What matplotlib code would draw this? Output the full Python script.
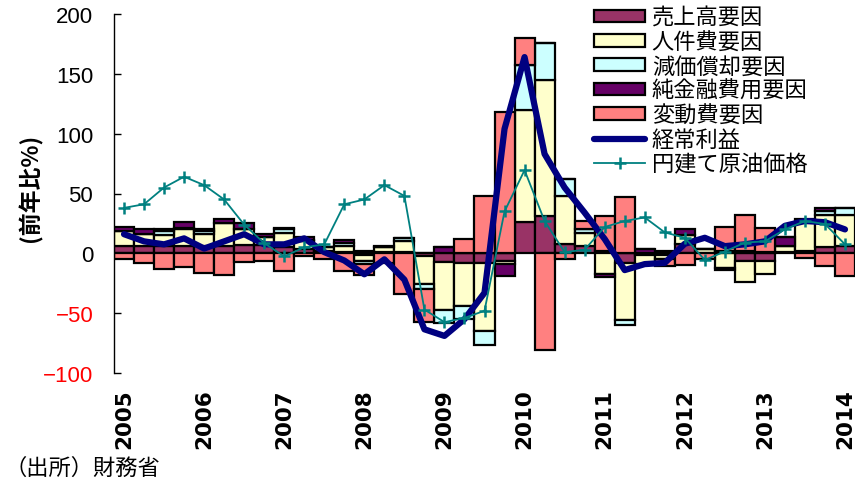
import numpy as np
import matplotlib.pyplot as plt

plt.rcParams['font.family'] = ['Noto Sans CJK JP', 'DejaVu Sans']

years = ['2005', '2006', '2007', '2008', '2009', '2010', '2011', '2012', '2013', '2014']

# 四半期ごとの寄与度 (2005Q1 - 2014Q1)
sales = [6, 6, 6, 6, 6, 6, 7, 7, 5, 4, 2, 1, -1, 1, 1, -2, -7, -8, -8, -6,
         26, 31, 8, 6, 2, -8, -1, -1, 8, 0, 0, -6, -6, 1, 2, 5, 6]
labor = [13, 10, 9, 14, 10, 19, 13, 7, 12, 6, 3, 5, -5, 4, 9, -24, -40, -36, -57, -3,
         94, 114, 40, 11, -17, -48, -8, -4, 7, 4, -12, -18, -11, 5, 25, 27, 26]
deprec = [0, 0, 4, 1, 2.5, 0, 0, 0, 3, 1, 0, 3, -3, 0, 3, -4, -11, -11, -12, 0,
          37, 31, 14, 3, 0, -4, 0, 0, 0, 0, 2, 2, 1, 0, 0, 3, 6]
finance = [3, 4, 1, 5, 2, 4, 5, 2, 1, 3, 0, 2, 2, 1, 0, 0, 5, 0, 0, -10,
           0, 0, 0, 0, -3, 0, 4, 2, 5, 0, -2, 0, 0, 8, 2, 3, 0]
variable = [-5, -8, -13.5, -11.5, -16.5, -18, -7, -6, -15, -2, -5, -14.5, -9, -8, -34, -27, 0, 12, 48, 118,
            23, -81, -5, 7, 29, 47, 0, -6, -10, -5, 20, 30, 20, 0, -4, -11, -19]
profit = [16, 10, 7.5, 12.5, 4, 10, 16, 7.5, 7.5, 12.5, 1, -6, -17.5, -5, -22, -63.5, -69, -55, -33, 104,
          164, 83, 55, 34, 12, -14, -9, -8, 8, 13, 6, 7.5, 10, 23, 27, 26, 20]
oil = [38, 41, 55, 64, 57, 45, 24, 8.5, -2.5, 5, 7.5, 41, 45, 57, 48, -47, -57.5, -54, -48, 35,
       69.5, 27, 1, 3, 22, 27, 30, 17.5, 13, -5.5, 1.5, 9, 10, 20, 27, 24.5, 7.5]

series = [
    ('売上高要因', sales, '#993366'),
    ('人件費要因', labor, '#FFFFCC'),
    ('減価償却要因', deprec, '#CCFFFF'),
    ('純金融費用要因', finance, '#660066'),
    ('変動費要因', variable, '#FF8080'),
]

n = len(profit)
x = np.arange(n)

fig = plt.figure(figsize=(8.57, 4.81), dpi=100)
ax = fig.add_axes([114 / 857, 1 - 374 / 481, 741 / 857, 359 / 481])

pos_base = np.zeros(n)
neg_base = np.zeros(n)
handles = []
for name, vals, col in series:
    v = np.array(vals, dtype=float)
    bottom = np.where(v >= 0, pos_base, neg_base)
    b = ax.bar(x, v, width=1.0, bottom=bottom, color=col, edgecolor='black',
               linewidth=1.6, label=name, zorder=2)
    handles.append(b)
    pos_base = pos_base + np.where(v > 0, v, 0)
    neg_base = neg_base + np.where(v < 0, v, 0)

l1, = ax.plot(x, profit, color='#000080', linewidth=4.5, solid_joinstyle='round',
              solid_capstyle='round', label='経常利益', zorder=4)
l2, = ax.plot(x, oil, color='#008080', linewidth=1.3, marker='+', markersize=9,
              markeredgewidth=1.8, label='円建て原油価格', zorder=5)

yt = list(range(-100, 201, 50))
ax.set_xlim(-0.5, n - 0.5)
ax.set_ylim(-100, 200)
ax.set_yticks(yt)
ax.set_yticklabels([str(v).replace('-', '\u2212') for v in yt], fontsize=16,
                   family=['Liberation Sans', 'DejaVu Sans'])
for lab, v in zip(ax.get_yticklabels(), yt):
    lab.set_color('red' if v < 0 else 'black')
ax.tick_params(axis='y', direction='in', length=5, width=1, pad=15)

ax.set_xticks(x[::4])
ax.set_xticklabels(years, rotation=90, fontsize=15.5, fontweight='bold',
                   family=['DejaVu Sans'])
ax.tick_params(axis='x', length=0, pad=11)

for s in ['top', 'right', 'bottom']:
    ax.spines[s].set_visible(False)
ax.spines['left'].set_linewidth(1)

fig.text(30 / 857, 1 - 188 / 481, '(前年比%)', rotation=90, fontsize=16.5,
         fontweight='bold', ha='center', va='center')
fig.text(4 / 857, 1 - 468 / 481, '（出所）財務省', fontsize=16, ha='left', va='center')

ax.legend(handles + [l1, l2], [s[0] for s in series] + ['経常利益', '円建て原油価格'],
          loc='upper left', bbox_to_anchor=(594 / 857, 1 - 7 / 481),
          bbox_transform=fig.transFigure, frameon=False, fontsize=16,
          handlelength=2.3, handleheight=0.5, handletextpad=0.3,
          labelspacing=0.06, borderpad=0, borderaxespad=0)

fig.savefig('out.png', dpi=100)
